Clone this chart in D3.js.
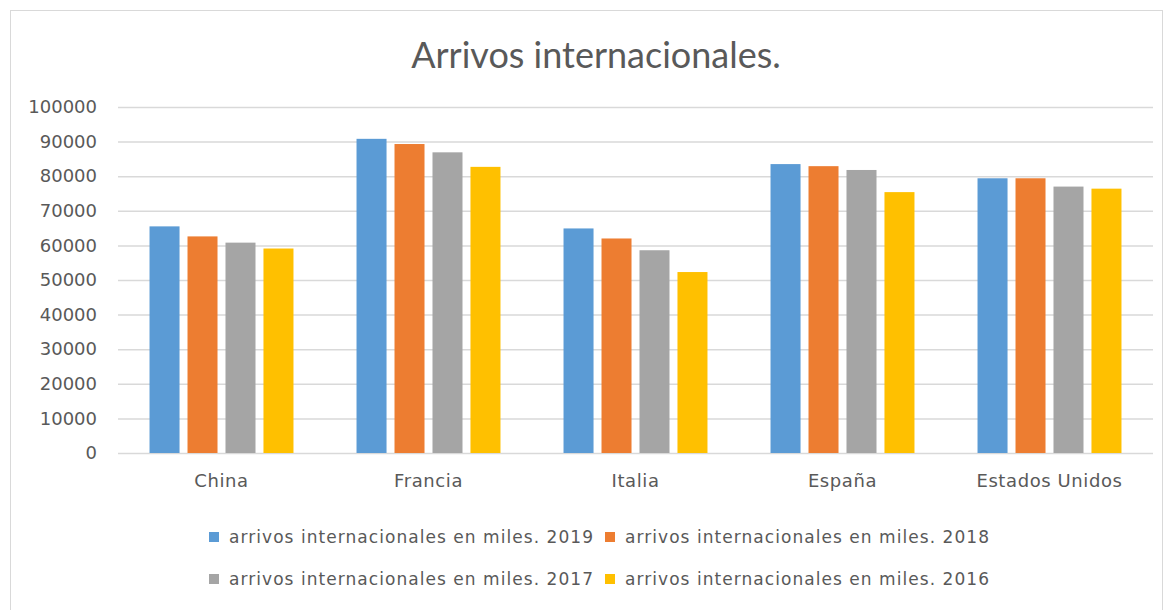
<!DOCTYPE html>
<html>
<head>
<meta charset="utf-8">
<script src="https://cdn.jsdelivr.net/npm/d3@7"></script>
<style>
  body { margin: 0; background: #fff; }
  text { fill: #595959; }
</style>
</head>
<body>
<div id="chart"></div>
<script>
const categories = ["China", "Francia", "Italia", "España", "Estados Unidos"];
const seriesNames = [
  "arrivos internacionales en miles. 2019",
  "arrivos internacionales en miles. 2018",
  "arrivos internacionales en miles. 2017",
  "arrivos internacionales en miles. 2016"
];
const values2019 = [65500, 90800, 64900, 83500, 79400];
const values2018 = [62600, 89300, 62000, 82900, 79400];
const values2017 = [60800, 86900, 58600, 81800, 77000];
const values2016 = [59100, 82700, 52300, 75400, 76400];
const yTicks = [0, 10000, 20000, 30000, 40000, 50000, 60000, 70000, 80000, 90000, 100000];
const colors = ["#5B9BD5", "#ED7D31", "#A5A5A5", "#FFC000"];

const allSeries = [values2019, values2018, values2017, values2016];

const width = 1170, height = 610;
const plot = { left: 118, right: 1153, top: 107, bottom: 453 };

const svg = d3.select("#chart").append("svg")
  .attr("width", width).attr("height", height);

// outer frame
svg.append("rect")
  .attr("x", 10.5).attr("y", 10.5)
  .attr("width", 1152).attr("height", 600)
  .attr("fill", "none").attr("stroke", "#d9d9d9");

// title
svg.append("text")
  .attr("x", 596).attr("y", 68)
  .attr("text-anchor", "middle")
  .style("font-family", "Lato")
  .style("font-size", "36px")
  .text("Arrivos internacionales.");

const y = d3.scaleLinear().domain([0, 100000]).range([plot.bottom, plot.top]);
const x0 = d3.scaleBand().domain(categories).range([plot.left, plot.right]);
const x1 = d3.scaleBand().domain(d3.range(4))
  .range([0, x0.bandwidth()]).paddingInner(0.21).paddingOuter(0.83);

// gridlines + y labels
const yAxis = d3.axisLeft(y).tickValues(yTicks).tickFormat(d3.format("d"))
  .tickSize(-(plot.right - plot.left)).tickPadding(21);
const gy = svg.append("g").attr("transform", `translate(${plot.left},0)`).call(yAxis);
gy.select(".domain").remove();
gy.selectAll(".tick line").attr("stroke", "#d9d9d9").attr("stroke-width", 1.5);
gy.selectAll(".tick text")
  .style("font-family", "DejaVu Sans")
  .style("font-size", "18px")
  .attr("fill", "#595959");

// bars
const groups = svg.append("g").selectAll("g")
  .data(categories)
  .join("g")
  .attr("transform", d => `translate(${x0(d)},0)`);

groups.selectAll("rect")
  .data((d, i) => allSeries.map((s, k) => ({ k, v: s[i] })))
  .join("rect")
  .attr("x", d => x1(d.k))
  .attr("y", d => y(d.v))
  .attr("width", x1.bandwidth())
  .attr("height", d => y(0) - y(d.v))
  .attr("fill", d => colors[d.k]);

// x axis labels
const xAxis = d3.axisBottom(x0).tickSize(0).tickPadding(21);
const gx = svg.append("g").attr("transform", `translate(0,${plot.bottom})`).call(xAxis);
gx.select(".domain").remove();
gx.selectAll(".tick text")
  .style("font-family", "DejaVu Sans")
  .style("font-size", "18px")
  .style("letter-spacing", "0.6px")
  .attr("fill", "#595959");

// legend
const legendPos = [
  { x: 209, y: 537 }, { x: 605, y: 537 },
  { x: 209, y: 579 }, { x: 605, y: 579 }
];
const legend = svg.append("g").selectAll("g")
  .data(seriesNames)
  .join("g")
  .attr("transform", (d, i) => `translate(${legendPos[i].x},${legendPos[i].y})`);
legend.append("rect")
  .attr("x", 0).attr("y", -5).attr("width", 10).attr("height", 10)
  .attr("fill", (d, i) => colors[i]);
legend.append("text")
  .attr("x", 20).attr("y", 6)
  .attr("textLength", 364)
  .attr("lengthAdjust", "spacing")
  .style("font-family", "DejaVu Sans")
  .style("font-size", "17px")
  .text(d => d);
</script>
</body>
</html>
